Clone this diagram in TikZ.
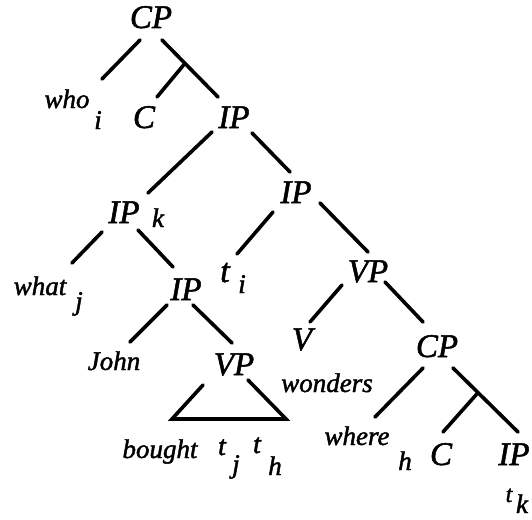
\documentclass[tikz,border=0pt]{standalone}
\usepackage{fontspec}
\setmainfont{Liberation Serif}[ItalicFeatures={FakeBold=1.6}]
\usetikzlibrary{calc}
\tikzset{
  x=1pt, y=-1pt,
  big/.style={anchor=base, inner sep=0pt, font=\fontsize{33}{36}\selectfont\itshape},
  sm/.style={anchor=base, inner sep=0pt, font=\fontsize{27}{29}\selectfont\itshape},
  tt/.style={anchor=base, inner sep=0pt, font=\fontsize{#1}{#1}\selectfont\itshape},
  br/.style={line width=3.6pt, line cap=round},
}
\begin{document}
\begin{tikzpicture}
\useasboundingbox[fill=white] (0,0) rectangle (532,519);
% labels
\node[big] (cp) at (151,28) {CP};
\node[sm] (who) at (67,108) {who};
\node[sm] (whoi) at (98,129) {i};
\node[big] (c1) at (144,128) {C};
\node[big] (ip1) at (234,128) {IP};
\node[big] (ipk) at (124,223) {IP};
\node[sm] (ipkk) at (158,227) {k};
\node[big] (ip2) at (296,203) {IP};
\node[sm] (what) at (40,295) {what};
\node[sm] (whatj) at (79,310) {j};
\node[tt=34] (ti) at (225,282) {t};
\node[sm] (tii) at (242,293) {i};
\node[big] (ip3) at (186,300) {IP};
\node[sm] (john) at (114,370) {John};
\node[big] (vp1) at (234,375) {VP};
\node[sm] (bought) at (160,458) {bought};
\node[tt=28] (tj) at (222,455) {t};
\node[sm] (tjj) at (236,473) {j};
\node[tt=28] (th) at (257,453) {t};
\node[sm] (thh) at (275,475) {h};
\node[big] (vp2) at (368,282) {VP};
\node[big] (v) at (302,350) {V};
\node[sm] (wonders) at (327,392) {wonders};
\node[big] (cp2) at (437,357) {CP};
\node[sm] (where) at (357,445) {where};
\node[sm] (whereh) at (405,470) {h};
\node[big] (c2) at (441,465) {C};
\node[big] (ip4) at (514,465) {IP};
\node[tt=24] (tk) at (509,502) {t};
\node[sm] (tkk) at (522,513) {k};
% branches
\draw[br] ($(cp.base)+(-11,12)$) -- ($(who.base)+(35,-29)$);
\draw[br] ($(cp.base)+(11,12)$) -- coordinate[pos=0.41] (cpbr) ($(ip1.base)+(-16,-31)$);
\draw[br] (cpbr) -- ($(c1.base)+(13,-31)$);
\draw[br] ($(ip1.base)+(-22,4)$) -- ($(ipk.base)+(24,-30)$);
\draw[br] ($(ip1.base)+(18,5)$) -- ($(ip2.base)+(-6,-31)$);
\draw[br] ($(ip2.base)+(-23,9)$) -- ($(ti.base)+(12,-28)$);
\draw[br] ($(ip2.base)+(24,0)$) -- ($(vp2.base)+(0,-30)$);
\draw[br] ($(ipk.base)+(-22,9)$) -- ($(what.base)+(32,-32)$);
\draw[br] ($(ipk.base)+(14,7)$) -- ($(ip3.base)+(-13,-33)$);
\draw[br] ($(ip3.base)+(-19,5)$) -- ($(john.base)+(16,-28)$);
\draw[br] ($(ip3.base)+(7,5)$) -- ($(vp1.base)+(-2,-32)$);
\coordinate (tl) at ($(bought.base)+(12,-39)$);
\coordinate (tr) at ($(thh.base)+(11,-56)$);
\draw[br] ($(vp1.base)+(-31,10)$) -- (tl) -- (tr) -- ($(vp1.base)+(14,5)$);
\draw[br] ($(vp2.base)+(-26,3)$) -- ($(v.base)+(8,-28)$);
\draw[br] ($(vp2.base)+(17,0)$) -- ($(cp2.base)+(-14,-35)$);
\draw[br] ($(cp2.base)+(-14,11)$) -- ($(where.base)+(18,-28)$);
\draw[br] ($(cp2.base)+(16,11)$) -- coordinate[pos=0.385] (cp2br) ($(ip4.base)+(4,-33)$);
\draw[br] (cp2br) -- ($(c2.base)+(2,-33)$);
\end{tikzpicture}
\end{document}
